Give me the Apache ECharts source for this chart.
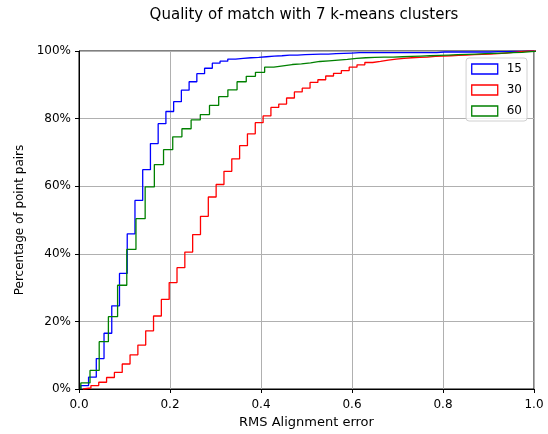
<!DOCTYPE html>
<html>
<head>
<meta charset="utf-8">
<script src="https://cdn.jsdelivr.net/npm/echarts@6/dist/echarts.min.js"></script>
<style>
  html, body { margin: 0; padding: 0; background: #fff; }
  #chart { width: 548px; height: 434px; }
</style>
</head>
<body>
<div id="chart"></div>
<script>
// cumulative histograms, each with its own bins (start, width) and level per bin in %
var seriesNames = ['15', '30', '60'];
var seriesColors = ['#0000ff', '#ff0000', '#008000'];
var binStart = [0.004, 0.009, 0.004];
var binWidth = [0.017, 0.0172, 0.0202];

var blueLevels = [1.0, 3.5, 9.0, 16.5, 24.6, 34.2, 45.9, 55.8, 64.9, 72.6, 78.5, 82.1, 85.0, 88.4, 90.9,
  93.3, 94.9, 96.4, 97.0, 97.6, 97.8, 98.0, 98.1, 98.3, 98.5, 98.6, 98.8, 98.8, 98.9, 99.0,
  99.1, 99.1, 99.2, 99.3, 99.4, 99.5, 99.5, 99.5, 99.5, 99.5, 99.5, 99.5, 99.5, 99.5, 99.5,
  99.5, 99.7, 99.7, 99.7, 99.7, 99.7, 99.7, 99.7, 99.8, 99.8, 99.9, 99.9, 100, 100, 100];

var redLevels = [0.3, 1.0, 2.0, 3.4, 4.9, 7.4, 10.1, 13.0, 17.2, 21.6, 26.5, 31.5, 35.9, 40.5, 45.7,
  51.1, 56.8, 60.5, 64.4, 68.1, 72.0, 75.5, 78.8, 80.8, 83.3, 84.3, 86.1, 87.9, 89.0, 90.7,
  91.5, 92.6, 93.4, 94.2, 95.2, 95.9, 96.6, 96.9, 97.3, 97.6, 97.8, 98.0, 98.1, 98.2, 98.4,
  98.5, 98.6, 98.7, 98.8, 98.9, 99.0, 99.1, 99.2, 99.4, 99.6, 99.8, 100, 100, 100, 100];

var greenLevels = [1.8, 5.5, 14.0, 21.4, 30.7, 41.3, 50.4, 59.8, 66.4, 70.8, 74.6, 77.0, 79.6, 81.2, 83.9,
  86.5, 88.5, 90.9, 92.5, 93.7, 95.2, 95.6, 96.0, 96.2, 96.5, 96.9, 97.1, 97.3, 97.5, 97.8,
  98.0, 98.1, 98.2, 98.2, 98.3, 98.4, 98.5, 98.6, 98.7, 98.8, 98.9, 99.0, 99.1, 99.2, 99.3,
  99.4, 99.5, 99.6, 99.8, 100];

var allLevels = [blueLevels, redLevels, greenLevels];

// step outline: left edge of each bin at its level, then close at last right edge
function stepData(i) {
  var lv = allLevels[i];
  var pts = [[binStart[i], 0]];
  for (var k = 0; k < lv.length; k++) {
    pts.push([binStart[i] + k * binWidth[i], lv[k]]);
  }
  var end = binStart[i] + lv.length * binWidth[i];
  pts.push([end, lv[lv.length - 1]]);
  pts.push([end, 0]);
  return pts;
}

var myChart = echarts.init(document.getElementById('chart'));

var font = 'DejaVu Sans';
var option = {
  backgroundColor: '#fff',
  animation: false,
  textStyle: { fontFamily: font },
  title: {
    text: 'Quality of match with 7 k-means clusters',
    left: 299,
    textAlign: 'center',
    top: 3,
    textStyle: { fontFamily: font, fontSize: 15, fontWeight: 'normal', color: '#000' }
  },
  legend: {
    orient: 'vertical',
    right: 21,
    top: 58,
    padding: [5, 5, 4, 5],
    itemWidth: 26,
    itemHeight: 10,
    itemGap: 9,
    borderColor: '#d0d0d0',
    borderWidth: 1,
    borderRadius: 3,
    backgroundColor: 'rgba(255,255,255,0.8)',
    textStyle: { fontFamily: font, fontSize: 12, color: '#000', padding: [0, 0, 0, 4] },
    data: seriesNames.map(function (n, i) {
      return {
        name: n,
        icon: 'rect',
        itemStyle: { color: 'rgba(0,0,0,0)', borderColor: seriesColors[i], borderWidth: 1.3 }
      };
    })
  },
  grid: {
    left: 79, right: 14, top: 51, bottom: 44,
    show: true, borderColor: '#000', borderWidth: 1
  },
  xAxis: {
    type: 'value',
    min: 0, max: 1, interval: 0.2,
    name: 'RMS Alignment error',
    nameLocation: 'middle',
    nameGap: 27,
    nameTextStyle: { fontFamily: font, fontSize: 13, color: '#000' },
    axisLine: { show: true, lineStyle: { color: '#000', width: 1 } },
    axisTick: { show: true, length: 4, lineStyle: { color: '#000' } },
    axisLabel: {
      fontFamily: font, fontSize: 12, color: '#000', margin: 10,
      formatter: function (v) { return v.toFixed(1); }
    },
    splitLine: { show: true, lineStyle: { color: '#b0b0b0', width: 1 } }
  },
  yAxis: {
    type: 'value',
    min: 0, max: 100, interval: 20,
    name: 'Percentage of point pairs',
    nameLocation: 'middle',
    nameGap: 51,
    nameTextStyle: { fontFamily: font, fontSize: 12, color: '#000' },
    axisLine: { show: true, lineStyle: { color: '#000', width: 1 } },
    axisTick: { show: true, length: 4, lineStyle: { color: '#000' } },
    axisLabel: {
      fontFamily: font, fontSize: 12, color: '#000', margin: 8,
      formatter: function (v) { return v + '%'; }
    },
    splitLine: { show: true, lineStyle: { color: '#b0b0b0', width: 1 } }
  },
  series: seriesNames.map(function (n, i) {
    return {
      name: n,
      type: 'line',
      step: 'end',
      showSymbol: false,
      symbol: 'none',
      clip: true,
      data: stepData(i),
      itemStyle: { color: seriesColors[i] },
      lineStyle: { color: seriesColors[i], width: 1.3 }
    };
  })
};

myChart.setOption(option);
</script>
</body>
</html>
